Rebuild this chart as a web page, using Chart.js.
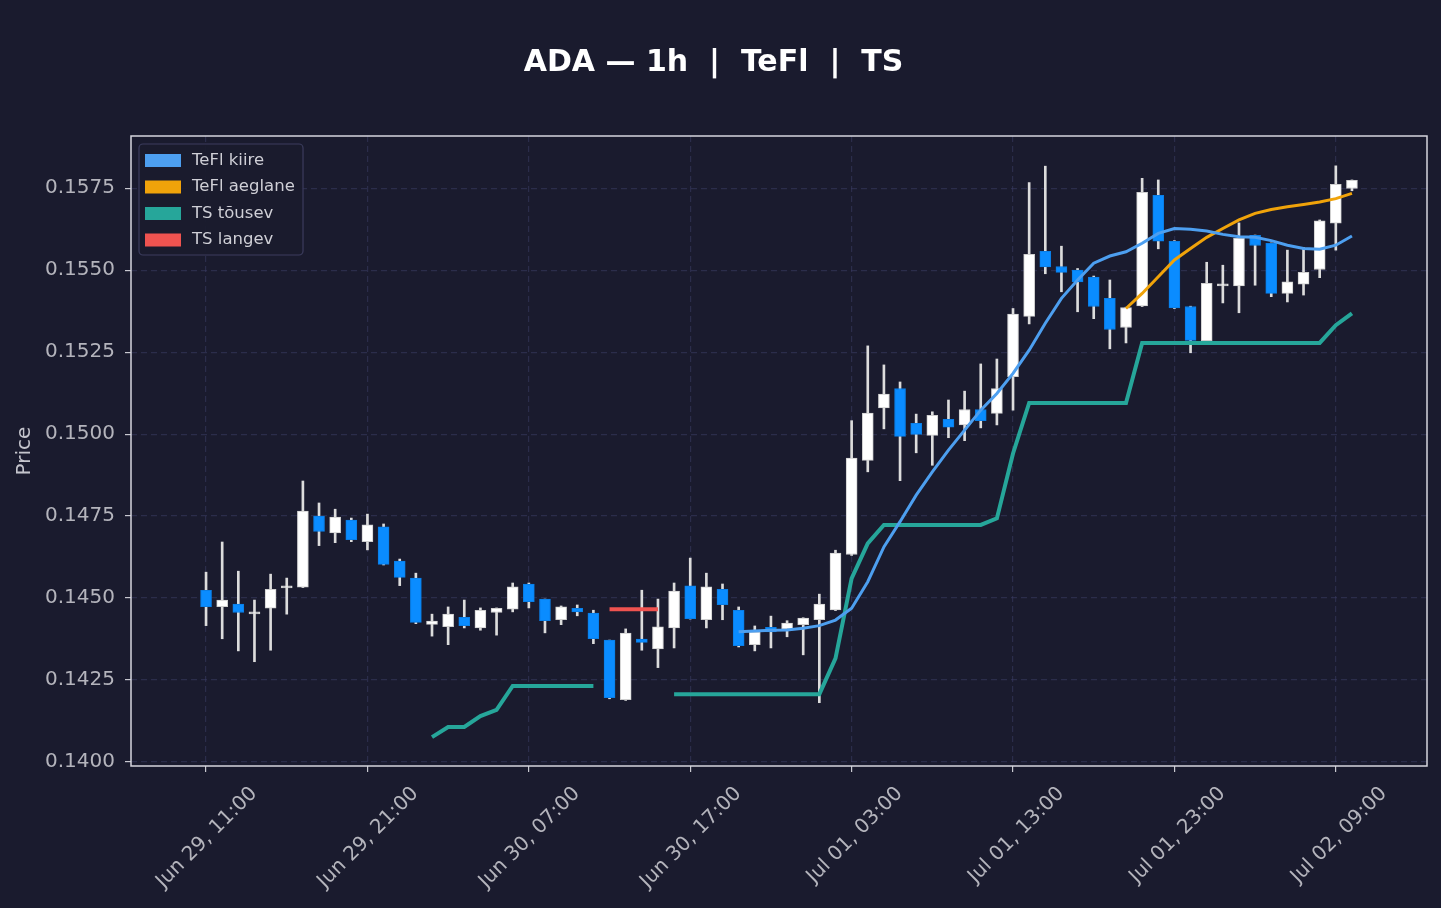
<!DOCTYPE html>
<html>
<head>
<meta charset="utf-8">
<script src="https://cdn.jsdelivr.net/npm/chart.js@4.4.1/dist/chart.umd.min.js"></script>
<style>
  html, body { margin: 0; padding: 0; background: #1a1b2e; }
  #wrap { width: 1441px; height: 908px; position: relative; }
</style>
</head>
<body>
<div id="wrap"><canvas id="chart"></canvas></div>
<script>
// x ticks (candle index -> label)
const tickIdx = [0, 10, 20, 30, 40, 50, 60, 70]
const tickLabels = ['Jun 29, 11:00', 'Jun 29, 21:00', 'Jun 30, 07:00', 'Jun 30, 17:00',
  'Jul 01, 03:00', 'Jul 01, 13:00', 'Jul 01, 23:00', 'Jul 02, 09:00']
const yTicks = [0.1400, 0.1425, 0.1450, 0.1475, 0.1500, 0.1525, 0.1550, 0.1575]

// hourly candles, Jun 29 11:00 -> Jul 02 10:00
const open = [
  0.14524, 0.14474, 0.14482, 0.14452, 0.14469, 0.14531, 0.14533, 0.14750, 0.14699, 0.14738,
  0.14672, 0.14717, 0.14613, 0.14561, 0.14420, 0.14413, 0.14441, 0.14409, 0.14456, 0.14466,
  0.14543, 0.14497, 0.14434, 0.14469, 0.14454, 0.14372, 0.14190, 0.14375, 0.14345, 0.14409,
  0.14537, 0.14434, 0.14527, 0.14463, 0.14358, 0.14411, 0.14406, 0.14419, 0.14434, 0.14464,
  0.14633, 0.14920, 0.15080, 0.15139, 0.15033, 0.14996, 0.15045, 0.15028, 0.15075, 0.15063,
  0.15175, 0.15359, 0.15557, 0.15511, 0.15500, 0.15479, 0.15414, 0.15325, 0.15391, 0.15728,
  0.15588, 0.15389, 0.15285, 0.15452, 0.15452, 0.15606, 0.15582, 0.15429, 0.15457, 0.15502,
  0.15643, 0.15749]
const high = [
  0.14579, 0.14671, 0.14582, 0.14494, 0.14573, 0.14561, 0.14857, 0.14790, 0.14771, 0.14744,
  0.14756, 0.14726, 0.14619, 0.14576, 0.14451, 0.14473, 0.14494, 0.14470, 0.14470, 0.14546,
  0.14546, 0.14497, 0.14476, 0.14479, 0.14463, 0.14372, 0.14406, 0.14524, 0.14497, 0.14546,
  0.14622, 0.14576, 0.14543, 0.14473, 0.14415, 0.14445, 0.14431, 0.14440, 0.14512, 0.14646,
  0.15041, 0.15269, 0.15211, 0.15159, 0.15061, 0.15068, 0.15104, 0.15131, 0.15214, 0.15229,
  0.15383, 0.15767, 0.15817, 0.15573, 0.15505, 0.15482, 0.15470, 0.15387, 0.15780, 0.15775,
  0.15590, 0.15390, 0.15524, 0.15515, 0.15644, 0.15607, 0.15583, 0.15561, 0.15569, 0.15653,
  0.15818, 0.15775]
const low = [
  0.14416, 0.14376, 0.14339, 0.14306, 0.14341, 0.14451, 0.14532, 0.14660, 0.14669, 0.14672,
  0.14647, 0.14601, 0.14538, 0.14422, 0.14384, 0.14358, 0.14409, 0.14402, 0.14387, 0.14458,
  0.14470, 0.14394, 0.14419, 0.14446, 0.14361, 0.14193, 0.14188, 0.14341, 0.14288, 0.14348,
  0.14436, 0.14409, 0.14434, 0.14351, 0.14339, 0.14348, 0.14382, 0.14327, 0.14181, 0.14462,
  0.14630, 0.14885, 0.15016, 0.14858, 0.14943, 0.14905, 0.14989, 0.14980, 0.15019, 0.15028,
  0.15073, 0.15336, 0.15489, 0.15434, 0.15373, 0.15352, 0.15260, 0.15278, 0.15389, 0.15565,
  0.15383, 0.15248, 0.15283, 0.15400, 0.15370, 0.15454, 0.15419, 0.15403, 0.15424, 0.15477,
  0.15561, 0.15742]
const close = [
  0.14474, 0.14494, 0.14456, 0.14454, 0.14527, 0.14532, 0.14765, 0.14703, 0.14747, 0.14678,
  0.14723, 0.14603, 0.14563, 0.14426, 0.14430, 0.14451, 0.14416, 0.14463, 0.14469, 0.14534,
  0.14489, 0.14431, 0.14473, 0.14458, 0.14376, 0.14196, 0.14393, 0.14365, 0.14412, 0.14521,
  0.14437, 0.14534, 0.14480, 0.14355, 0.14396, 0.14397, 0.14424, 0.14439, 0.14482, 0.14637,
  0.14927, 0.15064, 0.15122, 0.14993, 0.14999, 0.15057, 0.15021, 0.15075, 0.15041, 0.15139,
  0.15366, 0.15548, 0.15510, 0.15493, 0.15464, 0.15389, 0.15319, 0.15386, 0.15737, 0.15588,
  0.15385, 0.15286, 0.15460, 0.15454, 0.15597, 0.15575, 0.15429, 0.15464, 0.15493, 0.15650,
  0.15762, 0.15774]

const N = null
// TeFl kiire (fast)
const fast = [
  N, N, N, N, N, N, N, N, N, N, N, N, N, N, N, N, N, N, N, N,
  N, N, N, N, N, N, N, N, N, N, N, N, N, 0.14397, 0.14400, 0.14402, 0.14403, 0.14408, 0.14416, 0.14433,
  0.14469, 0.14550, 0.14656, 0.14733, 0.14814, 0.14885, 0.14951, 0.15012, 0.15073, 0.15124,
  0.15185, 0.15256, 0.15338, 0.15414, 0.15470, 0.15521, 0.15543, 0.15556, 0.15582, 0.15612,
  0.15627, 0.15625, 0.15619, 0.15609, 0.15602, 0.15600, 0.15590, 0.15576, 0.15566, 0.15564,
  0.15576, 0.15604]
// TeFl aeglane (slow)
const slow = [
  N, N, N, N, N, N, N, N, N, N, N, N, N, N, N, N, N, N, N, N,
  N, N, N, N, N, N, N, N, N, N, N, N, N, N, N, N, N, N, N, N,
  N, N, N, N, N, N, N, N, N, N, N, N, N, N, N, N, N, 0.15383, 0.15429, 0.15480,
  0.15531, 0.15566, 0.15600, 0.15627, 0.15653, 0.15673, 0.15685, 0.15693, 0.15700, 0.15708,
  0.15718, 0.15734]
// TS tõusev
const tsUp = [
  N, N, N, N, N, N, N, N, N, N, N, N, N, N, 0.14076, 0.14107, 0.14107, 0.14140, 0.14159, 0.14232,
  0.14232, 0.14232, 0.14232, 0.14232, 0.14232, N, N, N, N, 0.14207,
  0.14207, 0.14207, 0.14207, 0.14207, 0.14207, 0.14207, 0.14207, 0.14207, 0.14207, 0.14316,
  0.14560, 0.14667, 0.14723, 0.14723, 0.14723, 0.14723, 0.14723, 0.14723, 0.14723, 0.14743,
  0.14941, 0.15095, 0.15095, 0.15095, 0.15095, 0.15095, 0.15095, 0.15095, 0.15278, 0.15278,
  0.15278, 0.15278, 0.15278, 0.15278, 0.15278, 0.15278, 0.15278, 0.15278, 0.15278, 0.15278,
  0.15332, 0.15368]
// TS langev
const tsDown = [
  N, N, N, N, N, N, N, N, N, N, N, N, N, N, N, N, N, N, N, N,
  N, N, N, N, N, 0.14466, 0.14466, 0.14466, 0.14466, N]

const UP = '#ffffff'
const DOWN = '#0a8cff'
const WICK = '#dcdcdc'
const GRID = 'rgba(58,60,100,0.55)'
const TEXT = '#b4b4bc'

const idx = open.map((_, i) => i)
const pts = arr => idx.map(i => ({ x: i, y: arr[i] === undefined ? null : arr[i] }))
const isUp = i => close[i] >= open[i]

function line(label, arr, color, width) {
  return { type: 'line', label, data: pts(arr), borderColor: color, backgroundColor: color,
    borderWidth: width, pointRadius: 0, tension: 0, spanGaps: false, order: 0 }
}

// frame round the plot + legend box inside the plot
const framePlugin = {
  id: 'frame',
  beforeDatasetsDraw(chart) {
    const { ctx, chartArea: a } = chart
    ctx.save()
    ctx.strokeStyle = '#d6d6de'
    ctx.lineWidth = 1.5
    ctx.setLineDash([])
    ctx.strokeRect(a.left, a.top, a.right - a.left, a.bottom - a.top)
    ctx.restore()
  },
  afterDraw(chart) {
    const { ctx, chartArea: a } = chart
    const items = chart.data.datasets.filter(d => d.type === 'line')
    const x0 = a.left + 8, y0 = a.top + 8
    ctx.save()
    ctx.beginPath()
    ctx.roundRect(x0, y0, 164, 111, 4)
    ctx.fillStyle = 'rgba(26,27,46,0.92)'
    ctx.fill()
    ctx.strokeStyle = '#3c3d5e'
    ctx.lineWidth = 1.2
    ctx.stroke()
    ctx.font = '16.5px "DejaVu Sans"'
    ctx.textBaseline = 'middle'
    items.forEach((d, k) => {
      const cy = y0 + 16.5 + k * 26.5
      ctx.fillStyle = d.borderColor
      ctx.fillRect(x0 + 6, cy - 6.5, 36, 13)
      ctx.fillStyle = '#cfcfd6'
      ctx.fillText(d.label, x0 + 53, cy)
    })
    ctx.restore()
  }
}

new Chart(document.getElementById('chart'), {
  type: 'line',
  data: {
    datasets: [
      line('TeFl kiire', fast, '#4d9ff0', 3),
      line('TeFl aeglane', slow, '#f0a30a', 3),
      line('TS tõusev', tsUp, '#26a69a', 4),
      line('TS langev', tsDown, '#ef5350', 4),
      {
        type: 'bar', label: 'wick', data: idx.map(i => ({ x: i, y: [low[i], high[i]] })),
        backgroundColor: WICK, barThickness: 2, grouped: false, order: 3
      },
      {
        type: 'bar', label: 'body', data: idx.map(i => ({ x: i, y: [open[i], close[i]] })),
        backgroundColor: c => isUp(c.dataIndex) ? UP : DOWN,
        borderColor: c => isUp(c.dataIndex) ? '#cfcfcf' : '#0a7ee6',
        borderWidth: 1, borderSkipped: false, barThickness: 11, minBarLength: 2,
        grouped: false, order: 2
      }
    ]
  },
  options: {
    responsive: true,
    maintainAspectRatio: false,
    animation: false,
    layout: { padding: { left: 0, right: 14, top: 0, bottom: 0 } },
    plugins: {
      legend: { display: false },
      tooltip: { enabled: false },
      title: {
        display: true,
        text: 'ADA — 1h  |  TeFl  |  TS',
        color: '#ffffff',
        font: { family: 'DejaVu Sans', size: 30, weight: 'bold' },
        padding: { top: 45, bottom: 55 }
      }
    },
    scales: {
      x: {
        type: 'linear', min: -4.65, max: 75.65, offset: false,
        afterBuildTicks: s => { s.ticks = tickIdx.map(v => ({ value: v })) },
        afterFit: s => { s.height = 142 },
        grid: { color: GRID, lineWidth: 1.2, offset: false, tickColor: '#c8c8d0', tickLength: 6, tickWidth: 1.2 },
        border: { display: false, dash: [6, 4] },
        ticks: {
          color: TEXT, font: { family: 'DejaVu Sans', size: 20 },
          minRotation: 45, maxRotation: 45, labelOffset: 48, padding: 10, autoSkip: false,
          callback: v => tickLabels[tickIdx.indexOf(v)]
        }
      },
      y: {
        min: 0.13988, max: 0.15909,
        afterBuildTicks: s => { s.ticks = yTicks.map(v => ({ value: v })) },
        afterFit: s => { s.width = 131 },
        grid: { color: GRID, lineWidth: 1.2, tickColor: '#c8c8d0', tickLength: 6, tickWidth: 1.2 },
        border: { display: false, dash: [6, 4] },
        ticks: { color: TEXT, font: { family: 'DejaVu Sans', size: 20 }, padding: 10,
          callback: v => v.toFixed(4) },
        title: { display: true, text: 'Price', color: '#c4c4cc',
          font: { family: 'DejaVu Sans', size: 20 }, padding: { top: 13, bottom: 0 } }
      }
    }
  },
  plugins: [framePlugin]
})
</script>
</body>
</html>
